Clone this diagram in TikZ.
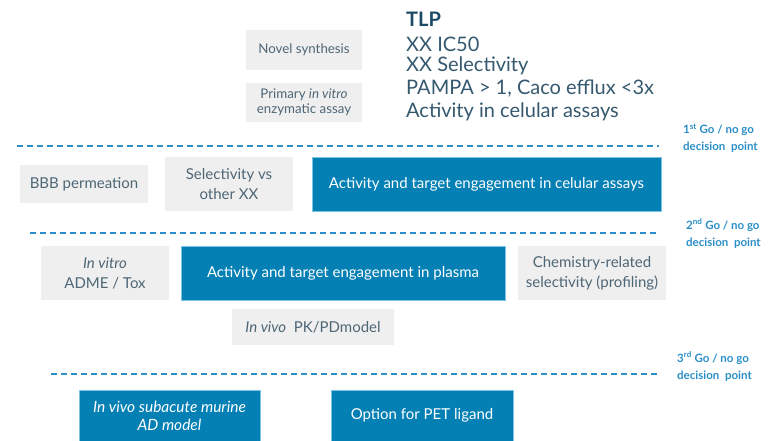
\documentclass[tikz,border=0pt]{standalone}
\usepackage{fontspec}
\setmainfont{Lato}
\definecolor{boxgrey}{HTML}{EFEFEF}
\definecolor{greytext}{HTML}{4E6676}
\definecolor{boxblue}{HTML}{0580B4}
\definecolor{boxedge}{HTML}{7CC3E3}
\definecolor{dashblue}{HTML}{2A8FC8}
\definecolor{tlpdark}{HTML}{1D4A66}
\definecolor{tlptext}{HTML}{35596F}
\begin{document}
\begin{tikzpicture}[x=1pt,y=-1pt,
  greybox/.style={fill=boxgrey, draw=none, inner sep=0pt, align=center, text=greytext,
    font=\fontsize{15}{20}\selectfont},
  bluebox/.style={fill=boxblue, draw=boxedge, line width=0.6pt, inner sep=0pt, align=center, text=white,
    font=\fontsize{15}{20}\selectfont},
  gate/.style={dashblue, line width=2pt, dash pattern=on 6pt off 4pt},
  golabel/.style={anchor=west, align=left, inner sep=0pt, text=dashblue,
    font=\fontsize{11.5}{17}\selectfont\bfseries},
  tlpline/.style={anchor=west, inner sep=0pt, text=tlptext, font=\fontsize{20}{22}\selectfont}]
\useasboundingbox (0,0) rectangle (770,441);
\fill[white] (0,0) rectangle (770,441);

% top boxes
\node[greybox, minimum width=116, minimum height=40, font=\fontsize{13.3}{15}\selectfont] (novel) at (304,50) {Novel synthesis};
\node[greybox, minimum width=116, minimum height=39, font=\fontsize{13.3}{15}\selectfont] (primary) at (304,102.5) {Primary \textit{in vitro}\\enzymatic assay};

% TLP
\node[tlpline, text=tlpdark, font=\fontsize{20}{22}\selectfont\bfseries] (tlp) at (406,19) {TLP};
\node[tlpline] (ic50) at (406,44) {XX IC50};
\node[tlpline] (sel) at (406,66) {XX Selectivity};
\node[tlpline] (pampa) at (406,89) {PAMPA > 1, Caco efflux <3x};
\node[tlpline] (actc) at (406,112) {Activity in celular assays};

% gate 1
\coordinate (g1a) at (17,146);
\coordinate (g1b) at (659,146);
\draw[gate] (g1a) -- (g1b);
\node[golabel] (go1) at (683,138) {1\textsuperscript{st} Go / no go\\decision\ \ point};

% row 2
\node[greybox, minimum width=128, minimum height=38] (bbb) at (84,184) {BBB permeation};
\node[greybox, minimum width=128, minimum height=54] (selvs) at (229,184) {Selectivity vs\\other XX};
\node[bluebox, minimum width=349, minimum height=54] (actcel) at (486.5,184) {Activity and target engagement in celular assays};

% gate 2
\coordinate (g2a) at (30,233);
\coordinate (g2b) at (659,233);
\draw[gate] (g2a) -- (g2b);
\node[golabel] (go2) at (686,233.5) {2\textsuperscript{nd} Go / no go\\decision\ \ point};

% row 3
\node[greybox, minimum width=128, minimum height=54] (adme) at (105,273) {\textit{In vitro}\\ADME / Tox};
\node[bluebox, minimum width=324, minimum height=54] (actpl) at (343,273) {Activity and target engagement in plasma};
\node[greybox, minimum width=148, minimum height=54] (chem) at (592,273) {Chemistry-related\\selectivity (profiling)};
\node[greybox, minimum width=162, minimum height=36] (invivo) at (313,327) {\textit{In vivo}\ \ PK/PDmodel};

% gate 3
\coordinate (g3a) at (51,374);
\coordinate (g3b) at (660,374);
\draw[gate] (g3a) -- (g3b);
\node[golabel] (go3) at (677,366.5) {3\textsuperscript{rd} Go / no go\\decision\ \ point};

% bottom row
\node[bluebox, minimum width=181, minimum height=51, font=\fontsize{15.5}{18}\selectfont\itshape] (subacute) at (169.5,415.5) {In vivo subacute murine\\AD model};
\node[bluebox, minimum width=182, minimum height=51] (pet) at (422,415.5) {Option for PET ligand};
\end{tikzpicture}
\end{document}
